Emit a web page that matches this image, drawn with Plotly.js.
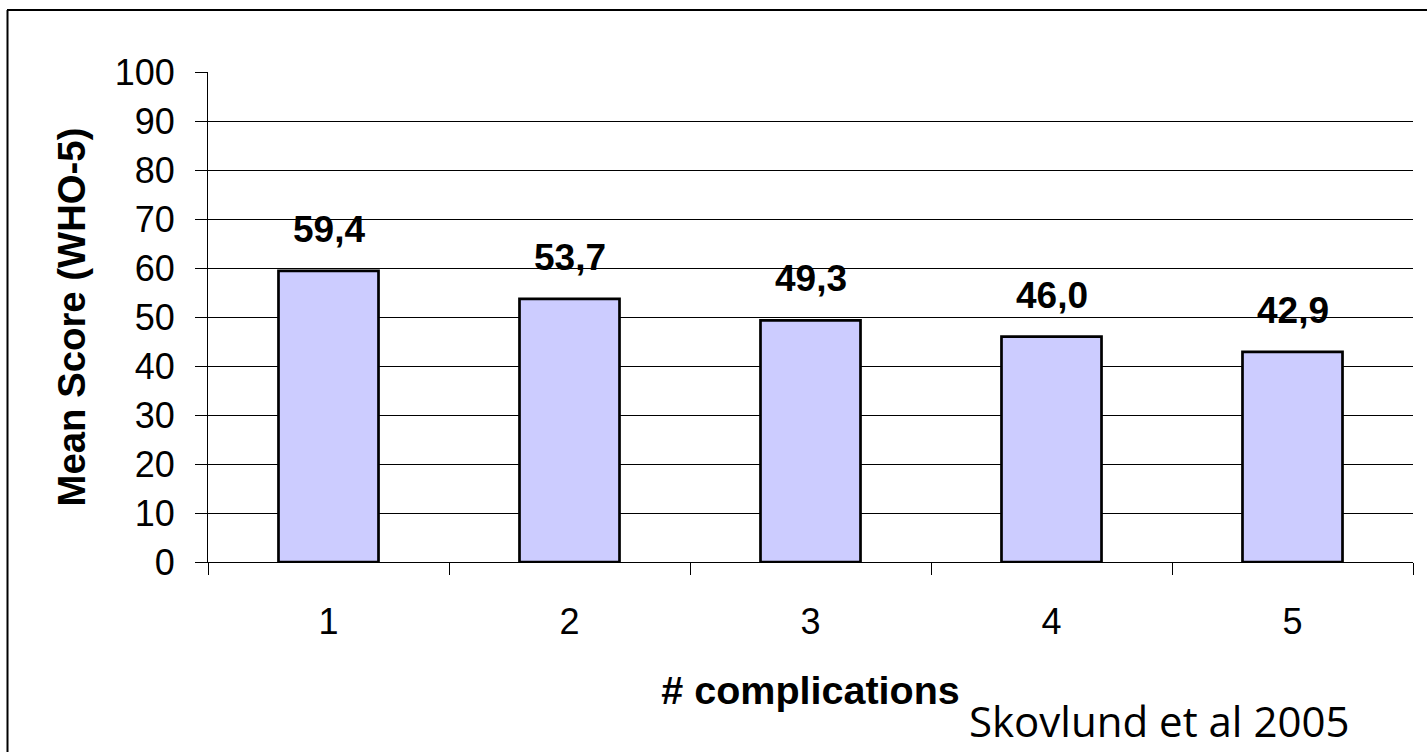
<!DOCTYPE html>
<html>
<head>
<meta charset="utf-8">
<script src="https://cdn.plot.ly/plotly-3.0.1.min.js"></script>
<style>
html,body{margin:0;padding:0;background:#fff;}
#chart{width:1427px;height:752px;}
</style>
</head>
<body>
<div id="chart"></div>
<script>
const categories = ["1", "2", "3", "4", "5"];
const meanScores = [59.4, 53.7, 49.3, 46.0, 42.9];
const yTickValues = [0, 10, 20, 30, 40, 50, 60, 70, 80, 90, 100];
const gridValues = [10, 20, 30, 40, 50, 60, 70, 80, 90];
const xTitle = "# complications";
const yTitle = "Mean Score (WHO-5)";
const sourceNote = "Skovlund et al 2005";

const fmt = v => v.toFixed(1).replace(".", ",");

const barTrace = {
  type: "bar",
  x: categories,
  y: meanScores,
  width: 0.415,
  marker: {color: "#CCCCFF", line: {color: "#000000", width: 2.7}},
  hoverinfo: "skip"
};
const gridTrace = {
  type: "scatter", x: [categories[0]], y: [null], yaxis: "y2", hoverinfo: "skip", showlegend: false
};

const labelAnnotations = categories.map((c, i) => ({
  x: i, y: meanScores[i], xref: "x", yref: "y",
  text: "<b>" + fmt(meanScores[i]) + "</b>",
  showarrow: false, yanchor: "bottom", yshift: 19,
  font: {family: "Liberation Sans, Arial, sans-serif", size: 37, color: "#000"}
}));

const layout = {
  width: 1427, height: 752,
  margin: {l: 208, r: 14, t: 72, b: 190},
  paper_bgcolor: "#ffffff", plot_bgcolor: "rgba(0,0,0,0)",
  showlegend: false,
  font: {family: "Liberation Sans, Arial, sans-serif", size: 36, color: "#000"},
  xaxis: {
    type: "category",
    categoryorder: "array", categoryarray: categories,
    range: [-0.5, categories.length - 0.5],
    tickson: "boundaries",
    ticks: "outside", ticklen: 12, tickwidth: 1, tickcolor: "#000",
    showline: true, linecolor: "#000", linewidth: 1,
    showgrid: false, zeroline: false,
    ticklabelstandoff: 28,
    tickfont: {size: 36},
    title: {text: "<b>" + xTitle + "</b>", font: {size: 39.5}, standoff: 35}
  },
  yaxis: {
    range: [0, 100],
    tickvals: yTickValues,
    ticks: "outside", ticklen: 12, tickwidth: 1, tickcolor: "#000",
    showline: true, linecolor: "#000", linewidth: 1,
    showgrid: false, zeroline: false,
    ticklabelstandoff: 13,
    tickfont: {size: 36},
    title: {text: "<b>" + yTitle + "</b>", font: {size: 38.3}, standoff: 17}
  },
  yaxis2: {
    overlaying: "y", range: [0, 100],
    tickvals: gridValues, showticklabels: false, ticks: "",
    showgrid: true, gridcolor: "#000000", gridwidth: 1,
    zeroline: false, showline: false
  },
  annotations: labelAnnotations.concat([{
    xref: "paper", yref: "paper",
    x: 1.0 - (1413 - 1351) / 1205, y: -(751 - 562) / 490,
    xanchor: "right", yanchor: "bottom",
    text: sourceNote, showarrow: false,
    font: {family: "Open Sans, Noto Sans, sans-serif", size: 42, color: "#000"}
  }]),
  shapes: [
    {type: "line", xref: "paper", yref: "paper",
     x0: (7 - 208) / 1205, x1: 1.05, y0: (562 - 10) / 490, y1: (562 - 10) / 490,
     line: {color: "#000", width: 2}},
    {type: "line", xref: "paper", yref: "paper",
     x0: (7.5 - 208) / 1205, x1: (7.5 - 208) / 1205, y0: (562 - 10) / 490, y1: -0.5,
     line: {color: "#000", width: 2}}
  ]
};

Plotly.newPlot("chart", [gridTrace, barTrace], layout, {displayModeBar: false, staticPlot: true});
</script>
</body>
</html>
